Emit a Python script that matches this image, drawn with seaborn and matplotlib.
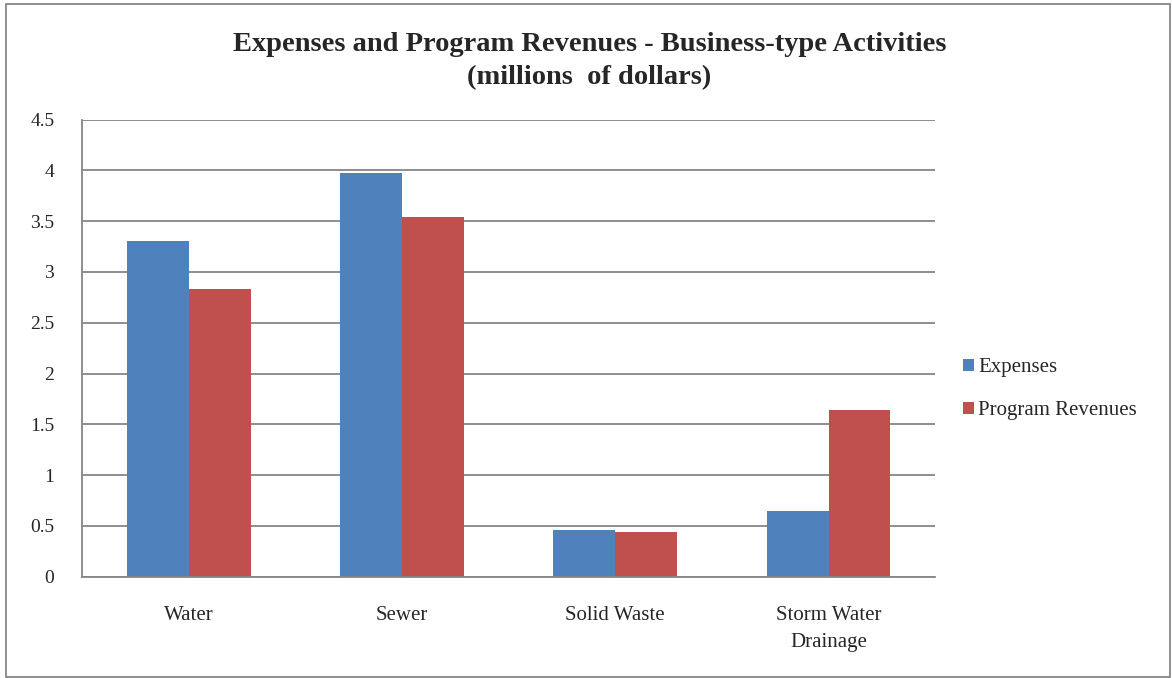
import matplotlib
matplotlib.use("Agg")
import matplotlib.pyplot as plt
import seaborn as sns
import pandas as pd
from matplotlib.patches import Rectangle

categories = ["Water", "Sewer", "Solid Waste", "Storm Water\nDrainage"]
expenses = [3.30, 3.97, 0.46, 0.65]
revenues = [2.83, 3.54, 0.44, 1.64]
series_names = ["Expenses", "Program Revenues"]
yticks = [0, 0.5, 1, 1.5, 2, 2.5, 3, 3.5, 4, 4.5]
ytick_labels = ["0", "0.5", "1", "1.5", "2", "2.5", "3", "3.5", "4", "4.5"]

df = pd.DataFrame({
    "Category": categories * 2,
    "Series": [series_names[0]] * 4 + [series_names[1]] * 4,
    "Value": expenses + revenues,
})

sns.set_style("white")
plt.rcParams["font.family"] = ["Liberation Serif", "DejaVu Serif"]

fig = plt.figure(figsize=(11.72, 6.78), dpi=100)
ax = fig.add_axes([0.070, 0.1494, 0.728, 0.6743])

sns.barplot(data=df, x="Category", y="Value", hue="Series", order=categories,
            hue_order=series_names, palette=["#4F81BD", "#C0504D"],
            width=0.58, gap=0, ax=ax, legend=True, saturation=1,
            edgecolor="none", linewidth=0)

ax.set_ylim(0, 4.5)
ax.set_xlim(-0.5, 3.5)
ax.set_yticks(yticks)
ax.set_yticklabels(ytick_labels)
ax.yaxis.grid(True, color="#868686", linewidth=1.3)
ax.set_axisbelow(True)
ax.set_xlabel("")
ax.set_ylabel("")
for s in ["top", "right"]:
    ax.spines[s].set_visible(False)
for s in ["left", "bottom"]:
    ax.spines[s].set_color("#868686")
    ax.spines[s].set_linewidth(1.3)
ax.tick_params(axis="y", length=0, pad=20, labelsize=14)
ax.tick_params(axis="x", length=0, pad=21, labelsize=15)
for lbl in ax.get_xticklabels():
    lbl.set_linespacing(1.6)

leg = ax.legend(loc="center left", bbox_to_anchor=(1.011, 0.41), frameon=False,
                fontsize=15, handlelength=0.5, handleheight=0.5,
                handletextpad=0.2, labelspacing=1.15)

fig.text(0.503, 0.935, "Expenses and Program Revenues - Business-type Activities",
         ha="center", va="center", fontsize=20.5, fontweight="bold")
fig.text(0.503, 0.886, "(millions  of dollars)",
         ha="center", va="center", fontsize=20.5, fontweight="bold")

fig.patches.append(Rectangle((0.005, 0.002), 0.993, 0.992, transform=fig.transFigure,
                             fill=False, edgecolor="#868686", linewidth=1.3))

fig.savefig("out.png", dpi=100)
